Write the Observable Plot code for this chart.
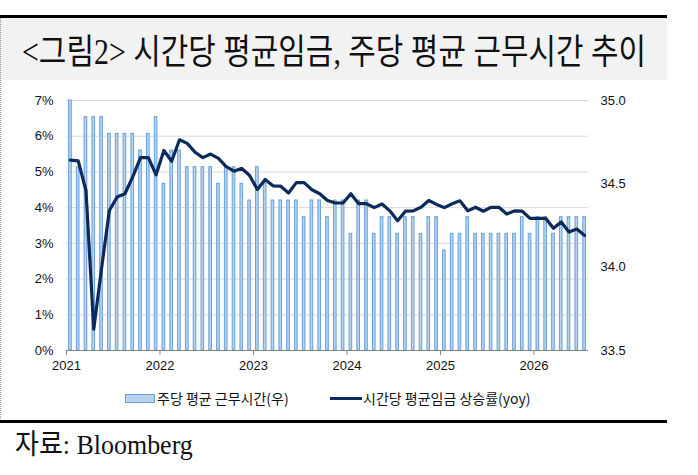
<!DOCTYPE html>
<html>
<head>
<meta charset="utf-8">
<script src="https://cdn.jsdelivr.net/npm/d3@7"></script>
<script src="https://cdn.jsdelivr.net/npm/@observablehq/plot@0.6"></script>
<style>
  html, body { margin: 0; padding: 0; background: #fff; }
  #page { position: relative; width: 698px; height: 475px; overflow: hidden; font-family: "Liberation Sans", Arial, sans-serif; }
  #topline { position: absolute; left: 0; top: 15px; width: 667px; height: 3px; background: #000; }
  #header { position: absolute; left: 0; top: 18px; width: 667px; height: 62px; background: #f2f2f2; }
  #title { position: absolute; left: 22px; top: 35px; font-family: "Liberation Serif", "Noto Sans CJK KR", serif; font-size: 35px; line-height: 35px; white-space: nowrap; transform-origin: 0 50%; color: #111; display: inline-block; }
  #leftdots { position: absolute; left: 0; top: 18px; height: 403px; border-left: 1px dotted #999; }
  #chart { position: absolute; left: 0; top: 85px; }
  .sw-bar { position: absolute; left: 125px; top: 394px; width: 28px; height: 7px; background: #b7d3f0; border: 1px solid #6a9fd8; }
  .sw-line { position: absolute; left: 330px; top: 397px; width: 32px; height: 3px; background: #0c2a5c; }
  .lg { position: absolute; top: 389px; font-family: "Noto Sans CJK KR", sans-serif; font-size: 14px; line-height: 18px; color: #111; white-space: nowrap; }
  #botline { position: absolute; left: 0; top: 420px; width: 667px; height: 3px; background: #000; }
  #source { position: absolute; left: 15px; top: 431px; font-family: "Liberation Serif", "Noto Sans CJK KR", serif; font-size: 28px; line-height: 28px; white-space: nowrap; transform-origin: 0 50%; color: #111; display: inline-block; }
</style>
</head>
<body>
<div id="page">
  <div id="topline"></div>
  <div id="header"></div>
  <span id="title">&lt;그림2&gt; 시간당 평균임금, 주당 평균 근무시간 추이</span>
  <div id="leftdots"></div>
  <div id="chart"></div>
  <div class="sw-bar"></div>
  <div class="lg" style="left:157px">주당 평균 근무시간(우)</div>
  <div class="sw-line"></div>
  <div class="lg" style="left:363px">시간당 평균임금 상승률(yoy)</div>
  <div id="botline"></div>
  <span id="source">자료: Bloomberg</span>
</div>
<script>
// Weekly average working hours (right axis), monthly from Jan 2021
const hoursWorked = [
  35.0, 34.6, 34.9, 34.9, 34.9, 34.8, 34.8, 34.8, 34.8, 34.7, 34.8, 34.9,
  34.5, 34.7, 34.7, 34.6, 34.6, 34.6, 34.6, 34.5, 34.6, 34.6, 34.5, 34.4,
  34.6, 34.5, 34.4, 34.4, 34.4, 34.4, 34.3, 34.4, 34.4, 34.3, 34.4, 34.4,
  34.2, 34.4, 34.4, 34.2, 34.3, 34.3, 34.2, 34.3, 34.3, 34.2, 34.3, 34.3,
  34.1, 34.2, 34.2, 34.3, 34.2, 34.2, 34.2, 34.2, 34.2, 34.2, 34.3, 34.2,
  34.3, 34.3, 34.2, 34.3, 34.3, 34.3, 34.3
];
// Hourly average wage growth, yoy % (left axis)
const wageGrowth = [
  5.33, 5.31, 4.48, 0.60, 2.30, 3.92, 4.30, 4.39, 4.86, 5.40, 5.40, 4.92,
  5.60, 5.30, 5.90, 5.80, 5.55, 5.40, 5.50, 5.38, 5.15, 5.02, 5.10, 4.90,
  4.51, 4.79, 4.61, 4.60, 4.41, 4.70, 4.70, 4.50, 4.39, 4.20, 4.13, 4.13,
  4.39, 4.11, 4.11, 4.00, 4.10, 3.91, 3.63, 3.90, 3.91, 4.01, 4.20, 4.09,
  4.00, 4.11, 4.19, 3.91, 4.01, 3.90, 4.01, 4.01, 3.82, 3.91, 3.90, 3.70,
  3.70, 3.70, 3.42, 3.60, 3.32, 3.40, 3.22
];
const yearTicks = ["2021", "2022", "2023", "2024", "2025", "2026"];
const pctTicks = [0, 1, 2, 3, 4, 5, 6, 7];
const hourTicks = [33.5, 34.0, 34.5, 35.0];

const hourToPct = d3.scaleLinear([33.5, 35.0], [0, 7]);
const data = hoursWorked.map((h, i) => ({i, h, g: wageGrowth[i]}));

const chart = Plot.plot({
  width: 667,
  height: 295,
  marginTop: 15,
  marginBottom: 30,
  marginLeft: 66,
  marginRight: 79,
  style: {fontFamily: '"Liberation Sans", Arial, sans-serif', fontSize: "13px", color: "#111", background: "transparent", overflow: "visible"},
  x: {type: "linear", domain: [0, hoursWorked.length], axis: null},
  y: {domain: [0, 7], axis: null},
  marks: [
    Plot.ruleY(pctTicks.filter(d => d > 0), {stroke: "#d9d9d9", strokeWidth: 1}),
    Plot.rect(data, {
      x1: d => d.i + 0.33, x2: d => d.i + 0.67,
      y1: 0, y2: d => hourToPct(d.h),
      fill: "#b7d3f0", stroke: "#6a9fd8", strokeWidth: 1
    }),
    Plot.ruleY([0], {stroke: "#868686", strokeWidth: 1}),
    Plot.line(data, {x: d => d.i + 0.5, y: "g", stroke: "#0c2a5c", strokeWidth: 3.2, strokeLinejoin: "round"}),
    Plot.axisX({
      ticks: yearTicks.map((_, k) => k * 12),
      tickFormat: d => yearTicks[d / 12],
      tickSize: 5, tickPadding: 5, stroke: "#868686", label: null
    }),
    Plot.axisY({anchor: "left", ticks: pctTicks, tickFormat: d => d + "%", tickSize: 0, tickPadding: 13, label: null}),
    Plot.axisY({
      anchor: "right",
      ticks: hourTicks.map(hourToPct),
      tickFormat: d => hourToPct.invert(d).toFixed(1),
      tickSize: 0, tickPadding: 12, label: null
    })
  ]
});
document.getElementById("chart").appendChild(chart);

function fit(id, target) {
  const el = document.getElementById(id);
  el.style.transform = "none";
  const w = el.offsetWidth;
  if (w > 0) el.style.transform = `scaleX(${target / w})`;
}
fit("title", 624);
fit("source", 178);
if (document.fonts && document.fonts.ready) document.fonts.ready.then(() => { fit("title", 624); fit("source", 178); });
</script>
</body>
</html>
